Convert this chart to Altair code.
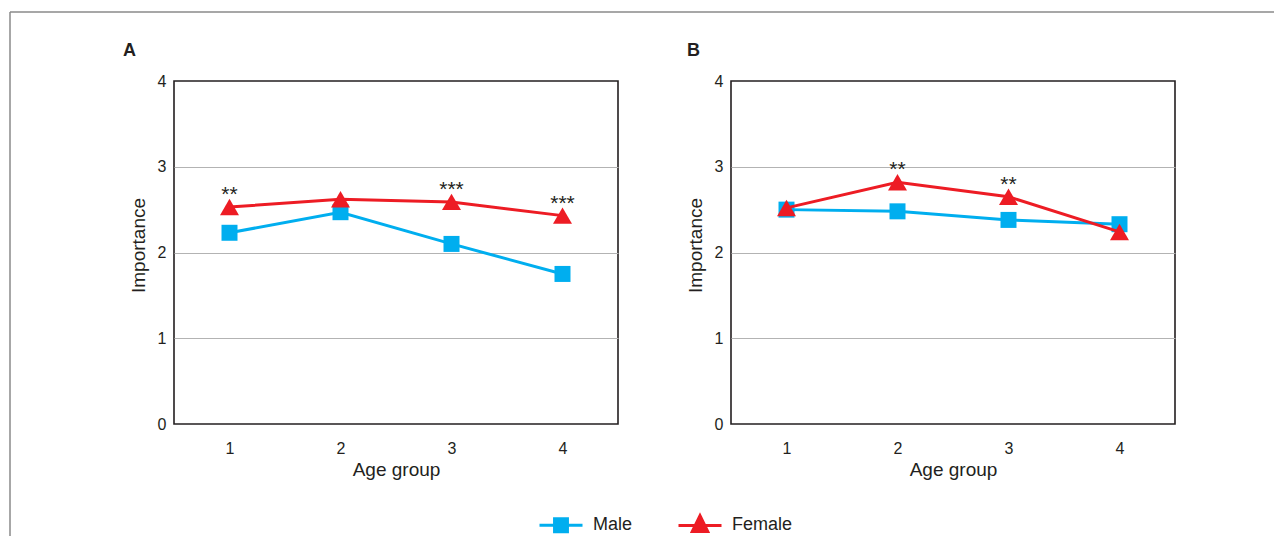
import altair as alt
import pandas as pd

# ---------------- data ----------------
age_groups = ["1", "2", "3", "4"]
series = ["Male", "Female"]
colors = ["#00AEEF", "#ED1C24"]
y_ticks = [0, 1, 2, 3, 4]

male_a = [2.23, 2.47, 2.10, 1.75]
female_a = [2.53, 2.62, 2.59, 2.43]
sig_a = ["**", "", "***", "***"]

male_b = [2.50, 2.48, 2.38, 2.33]
female_b = [2.52, 2.82, 2.65, 2.24]
sig_b = ["", "**", "**", ""]

panel_labels = ["A", "B"]

FONT = "Liberation Sans"
INK = "#231f20"
W, H = 444, 343


def make_df(male, female, sig):
    rows = []
    for i, g in enumerate(age_groups):
        rows.append({"age": g, "sex": "Male", "value": male[i], "sig": ""})
    for i, g in enumerate(age_groups):
        rows.append({"age": g, "sex": "Female", "value": female[i], "sig": sig[i]})
    return pd.DataFrame(rows)


color_scale = alt.Scale(domain=series, range=colors)

male_path = "M-1,0L1,0M-0.3,-0.3L0.3,-0.3L0.3,0.3L-0.3,0.3Z"
female_path = "M-1,0L1,0M0,-0.45L0.36,0.29L-0.36,0.29Z"

legend = alt.Legend(
    title=None,
    orient="none",
    direction="horizontal",
    legendX=364,
    legendY=421,
    symbolSize=1849,
    symbolStrokeWidth=3,
    symbolOpacity=1,
    labelFont=FONT,
    labelFontSize=18,
    labelColor=INK,
    labelOffset=9,
    columnPadding=39,
)

x_enc = alt.X(
    "age:O",
    sort=age_groups,
    scale=alt.Scale(type="point", padding=0.5),
    axis=alt.Axis(
        title="Age group",
        labelAngle=0,
        labelPadding=16,
        titlePadding=4,
        ticks=False,
        domain=False,
        grid=False,
    ),
)

y_enc = alt.Y(
    "value:Q",
    scale=alt.Scale(domain=[0, 4], nice=False, zero=True),
    axis=alt.Axis(
        title="Importance",
        values=y_ticks,
        format="d",
        labelPadding=8,
        titlePadding=9,
        titleY=164,
        ticks=False,
        domain=False,
        grid=True,
        gridColor={
            "condition": {"test": "datum.value === 0 || datum.value === 4", "value": "transparent"},
            "value": "#b3b3b3",
        },
        gridWidth=1.2,
    ),
)

shapes = {"Male": ("square", 256), "Female": ("triangle-up", 360)}


def panel(male, female, sig, label, label_dx, with_legend):
    df = make_df(male, female, sig)
    base = alt.Chart(df)
    line_layers, point_layers = [], []
    for s, c in zip(series, colors):
        sub = base.transform_filter(f"datum.sex === '{s}'")
        line_layers.append(
            sub.mark_line(strokeWidth=3, color=c).encode(x=x_enc, y=y_enc)
        )
        shp, sz = shapes[s]
        point_layers.append(
            sub.mark_point(filled=True, opacity=1, shape=shp, size=sz, color=c).encode(
                x=x_enc, y=y_enc
            )
        )
    stars = base.transform_filter("datum.sig !== ''").mark_text(
        font=FONT, fontSize=21, color=INK, baseline="alphabetic", dy=-6
    ).encode(x=x_enc, y=y_enc, text="sig:N")
    lab = alt.Chart(pd.DataFrame({"label": [label]})).mark_text(
        font=FONT, fontSize=18, fontWeight="bold", color=INK,
        align="left", baseline="alphabetic",
    ).encode(text="label:N", x=alt.value(label_dx), y=alt.value(-25))
    layers = [line_layers[0], point_layers[0], line_layers[1], point_layers[1], stars, lab]
    if with_legend:
        frame_df = pd.DataFrame({"k": [0]})
        left_rule = alt.Chart(frame_df).mark_rule(color="#8a8a8a", strokeWidth=1.5).encode(
            x=alt.value(-164), y=alt.value(-69), y2=alt.value(455)
        )
        top_rule = alt.Chart(frame_df).mark_rule(color="#8a8a8a", strokeWidth=1.5).encode(
            x=alt.value(-164), x2=alt.value(1100), y=alt.value(-69)
        )
        # legend-only layer: no rows drawn, entries come from the explicit scale domain
        legend_layer = base.transform_filter("false").mark_point(
            filled=True, opacity=1, strokeWidth=3
        ).encode(
            x=x_enc,
            y=y_enc,
            color=alt.Color("sex:N", scale=color_scale, legend=legend),
            stroke=alt.Stroke("sex:N", scale=color_scale, legend=legend),
            shape=alt.Shape(
                "sex:N",
                scale=alt.Scale(domain=series, range=[male_path, female_path]),
                legend=legend,
            ),
        )
        layers = [left_rule, top_rule] + layers + [legend_layer]
    return alt.layer(*layers).properties(width=W, height=H)


chart_a = panel(male_a, female_a, sig_a, panel_labels[0], -51, True)
chart_b = panel(male_b, female_b, sig_b, panel_labels[1], -44, False)

chart = (
    alt.hconcat(chart_a, chart_b, spacing=113, bounds="flush")
    .properties(
        padding={"left": 0, "top": 2, "right": 0, "bottom": 0},
        background="white",
    )
    .configure_view(stroke=INK, strokeWidth=1.6)
    .configure_axis(
        labelFont=FONT,
        labelFontSize=16,
        labelColor=INK,
        titleFont=FONT,
        titleFontSize=19,
        titleFontWeight="normal",
        titleColor=INK,
    )
)

chart.save("out.html", embed_options={"renderer": "svg", "actions": False})
